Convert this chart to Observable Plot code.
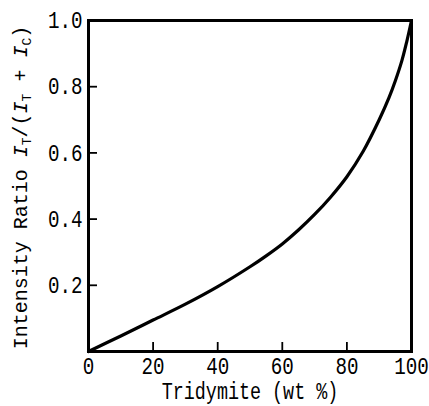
<!DOCTYPE html>
<html>
<head>
<meta charset="utf-8">
<script src="https://cdn.jsdelivr.net/npm/d3@7"></script>
<script src="https://cdn.jsdelivr.net/npm/@observablehq/plot@0.6"></script>
<style>
  html, body { margin: 0; padding: 0; background: #fff; }
  svg text { font-family: "Liberation Mono", "DejaVu Sans Mono", monospace; }
</style>
</head>
<body>
<div id="chart"></div>
<script>
// Data
const tridymite = [0, 10, 20, 30, 40, 50, 55, 60, 65, 70, 75, 80, 85, 90, 93, 95, 97, 98.5, 100];
const intensityRatio = [0, 0.047, 0.095, 0.143, 0.196, 0.256, 0.289, 0.325, 0.367, 0.414, 0.467, 0.528, 0.604, 0.70, 0.766, 0.818, 0.878, 0.935, 1.0];
const xTicks = [0, 20, 40, 60, 80, 100];
const xInnerTicks = [20, 40, 60, 80];
const yTicks = [0.2, 0.4, 0.6, 0.8, 1.0];
const yInnerTicks = [0.2, 0.4, 0.6, 0.8];
const xLabel = "Tridymite (wt %)";
const yLabelParts = [
  {t: "Intensity Ratio ", italic: false, sub: false},
  {t: "I", italic: true, sub: false},
  {t: "T", italic: false, sub: true},
  {t: "/(", italic: false, sub: false},
  {t: "I", italic: true, sub: false},
  {t: "T", italic: false, sub: true},
  {t: " + ", italic: false, sub: false},
  {t: "I", italic: true, sub: false},
  {t: "C", italic: false, sub: true},
  {t: ")", italic: false, sub: false}
];

const data = tridymite.map((x, i) => ({x, y: intensityRatio[i]}));

const W = 429, H = 406;
const M = {left: 88, right: 18, top: 20, bottom: 55};
const frameW = W - M.left - M.right, frameH = H - M.top - M.bottom;
const TICK_LEN = 9;
const xDom = [0, 100], yDom = [0, 1];
// tick length expressed in each axis' data units
const xTickLen = TICK_LEN / frameW * (xDom[1] - xDom[0]);
const yTickLen = TICK_LEN / frameH * (yDom[1] - yDom[0]);
const TICK_FONT = 24;
const XLABEL_FONT = 23;
const LABEL_FONT = 20;

const plot = Plot.plot({
  width: W,
  height: H,
  marginLeft: M.left,
  marginRight: M.right,
  marginTop: M.top,
  marginBottom: M.bottom,
  style: {fontSize: TICK_FONT + "px", fontFamily: "'Liberation Mono', monospace", color: "#000", background: "#fff"},
  x: {domain: xDom},
  y: {domain: yDom},
  marks: [
    Plot.axisX(xTicks, {tickSize: 0, tickPadding: 5, tickFormat: d => String(d), label: null, fontSize: TICK_FONT}),
    Plot.axisY(yTicks, {tickSize: 0, tickPadding: 6, tickFormat: d3.format(".1f"), label: null, fontSize: TICK_FONT}),
    Plot.ruleX(xInnerTicks, {x: d => d, y1: yDom[0], y2: yDom[0] + yTickLen, stroke: "#000", strokeWidth: 1.8}),
    Plot.ruleY(yInnerTicks, {y: d => d, x1: xDom[0], x2: xDom[0] + xTickLen, stroke: "#000", strokeWidth: 1.8}),
    Plot.line(data, {x: "x", y: "y", curve: "catmull-rom", stroke: "#000", strokeWidth: 3.2}),
    Plot.frame({stroke: "#000", strokeWidth: 3}),
    Plot.text([xLabel], {frameAnchor: "bottom", dy: 40, lineAnchor: "middle", fontSize: XLABEL_FONT, fill: "#000"})
  ]
});

document.getElementById("chart").appendChild(plot);

const svg = d3.select(plot);

// Condense the typewriter-style text horizontally around its anchor point
svg.selectAll("text").each(function() {
  const el = d3.select(this);
  const xa = el.attr("x");
  let x = 0;
  if (xa != null && /^-?[\d.]+$/.test(xa.trim())) { x = +xa; el.attr("x", null); }
  const t = el.attr("transform") || "";
  el.attr("transform", `${t} translate(${x},0) scale(0.8,1)`);
});

// Rotated y-axis label with italic symbols and subscripts
const cy = (M.top + (H - M.bottom)) / 2 + 2;
const lbl = svg.append("text")
  .attr("transform", `translate(27,${cy}) rotate(-90)`)
  .attr("text-anchor", "middle")
  .attr("font-size", LABEL_FONT)
  .attr("fill", "#000");
yLabelParts.forEach((p, i) => {
  const prev = i > 0 ? yLabelParts[i - 1] : null;
  const ts = lbl.append("tspan").text(p.t);
  if (p.italic) ts.attr("font-style", "italic");
  if (p.sub) ts.attr("font-size", LABEL_FONT * 0.65).attr("dy", "0.3em");
  else if (prev && prev.sub) ts.attr("dy", "-0.195em");
});
</script>
</body>
</html>
